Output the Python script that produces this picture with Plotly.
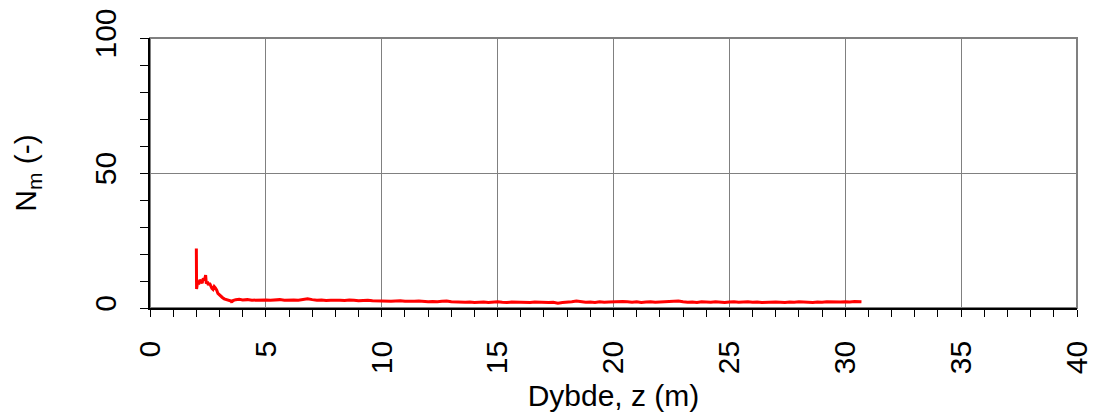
import plotly.graph_objects as go

depth = [2.00, 2.01, 2.05, 2.10, 2.15, 2.20, 2.25, 2.30, 2.35, 2.40, 2.43, 2.48, 2.52, 2.57,
         2.62, 2.67, 2.72, 2.77, 2.82, 2.88, 2.93, 2.98, 3.05, 3.12, 3.20, 3.30, 3.40, 3.50,
         3.53, 3.56, 3.70, 3.85,
         4.0, 4.2, 4.4, 4.6, 4.8, 5.0, 5.2, 5.4, 5.6, 5.8, 6.0,
         6.2, 6.4, 6.6, 6.8, 7.0, 7.2, 7.4, 7.6, 7.8, 8.0,
         8.2, 8.4, 8.6, 8.8, 9.0, 9.2, 9.4, 9.6, 9.8, 10.0,
         10.2, 10.4, 10.6, 10.8, 11.0, 11.2, 11.4, 11.6, 11.8, 12.0,
         12.2, 12.4, 12.6, 12.8, 13.0, 13.2, 13.4, 13.6, 13.8, 14.0,
         14.2, 14.4, 14.6, 14.8, 15.0, 15.2, 15.4, 15.6, 15.8, 16.0,
         16.2, 16.4, 16.6, 16.8, 17.0, 17.2, 17.4, 17.6, 17.8, 18.0,
         18.2, 18.4, 18.6, 18.8, 19.0, 19.2, 19.4, 19.6, 19.8, 20.0,
         20.2, 20.4, 20.6, 20.8, 21.0, 21.2, 21.4, 21.6, 21.8, 22.0,
         22.2, 22.4, 22.6, 22.8, 23.0, 23.2, 23.4, 23.6, 23.8, 24.0,
         24.2, 24.4, 24.6, 24.8, 25.0, 25.2, 25.4, 25.6, 25.8, 26.0,
         26.2, 26.4, 26.6, 26.8, 27.0, 27.2, 27.4, 27.6, 27.8, 28.0,
         28.2, 28.4, 28.6, 28.8, 29.0, 29.2, 29.4, 29.6, 29.8, 30.0,
         30.2, 30.4, 30.6, 30.7]

nm = [22.0, 7.0, 9.5, 8.8, 10.4, 9.6, 9.2, 11.0, 10.2, 12.2, 9.0, 9.8, 8.5, 9.2,
      8.0, 7.3, 6.9, 7.9, 7.4, 6.6, 5.4, 4.9, 4.3, 3.9, 3.4, 3.2, 2.8, 2.6,
      2.0, 2.7, 3.1, 3.2,
      3.0, 3.1, 2.9, 3.0, 3.1, 3.0, 2.9, 3.0, 3.1, 2.9, 3.0,
      3.0, 2.9, 3.2, 3.4, 3.1, 2.9, 3.0, 2.8, 2.9, 3.0,
      2.9, 2.8, 3.0, 2.9, 2.7, 2.8, 2.9, 2.7, 2.6, 2.7,
      2.6, 2.5, 2.6, 2.7, 2.5, 2.4, 2.5, 2.6, 2.4, 2.3,
      2.4, 2.3, 2.5, 2.6, 2.3, 2.2, 2.3, 2.1, 2.2, 2.0,
      2.1, 2.2, 2.0, 2.1, 2.3, 2.1, 2.0, 2.2, 2.1, 2.0,
      2.1, 2.0, 2.2, 2.1, 1.9, 2.0, 2.1, 1.8, 2.0, 2.1,
      2.3, 2.6, 2.4, 2.1, 2.2, 2.0, 2.3, 2.1, 2.2, 2.3,
      2.2, 2.4, 2.3, 2.1, 2.3, 2.0, 2.2, 2.3, 2.1, 2.2,
      2.4, 2.5, 2.7, 2.6, 2.3, 2.1, 2.2, 2.0, 2.3, 2.2,
      2.1, 2.3, 2.2, 2.0, 2.2, 2.3, 2.1, 2.2, 2.3, 2.1,
      2.2, 2.0, 2.1, 2.3, 2.2, 2.1, 2.0, 2.2, 2.1, 2.3,
      2.2, 2.1, 2.0, 2.2, 2.1, 2.3, 2.2, 2.1, 2.2, 2.3,
      2.2, 2.4, 2.3, 2.3]

x_ticks = [0, 5, 10, 15, 20, 25, 30, 35, 40]
y_ticks = [0, 50, 100]

FONT = "Liberation Sans, Arial, sans-serif"

fig = go.Figure()
fig.add_trace(go.Scatter(x=depth, y=nm, mode="lines",
                         line=dict(color="#ff0000", width=3),
                         showlegend=False))

fig.update_layout(
    width=1097, height=419,
    margin=dict(l=150, r=20, t=38, b=111, autoexpand=False),
    paper_bgcolor="white", plot_bgcolor="white",
    font=dict(family=FONT, size=30, color="black"),
    shapes=[dict(type="rect", xref="paper", yref="paper", x0=0, x1=1, y0=0, y1=1,
                 line=dict(color="#808080", width=2), layer="below")],
)
fig.update_xaxes(
    range=[0, 40], tickvals=x_ticks, ticktext=[str(v) for v in x_ticks],
    tickangle=-90, ticks="outside", ticklen=7, tickcolor="black", tickwidth=1,
    showline=True, linecolor="black", linewidth=1.5,
    showgrid=True, gridcolor="#808080", gridwidth=1,
    minor=dict(dtick=1, ticks="outside", ticklen=7, tickcolor="black", showgrid=False),
    zeroline=False, automargin=False,
    title=dict(text="Dybde, z (m)", font=dict(size=30), standoff=12),
    ticklabelstandoff=12,
)
fig.update_yaxes(
    range=[0, 100], tickvals=y_ticks, ticktext=[str(v) for v in y_ticks],
    tickangle=-90, ticks="outside", ticklen=8, tickcolor="black", tickwidth=1,
    showline=True, linecolor="black", linewidth=1.5,
    showgrid=True, gridcolor="#808080", gridwidth=1,
    minor=dict(dtick=10, ticks="outside", ticklen=8, tickcolor="black", showgrid=False),
    zeroline=False, automargin=False,
    title=dict(text="N<sub>m</sub> (-)", font=dict(size=30), standoff=44),
    ticklabelstandoff=12,
)

fig.write_html("out.html")
